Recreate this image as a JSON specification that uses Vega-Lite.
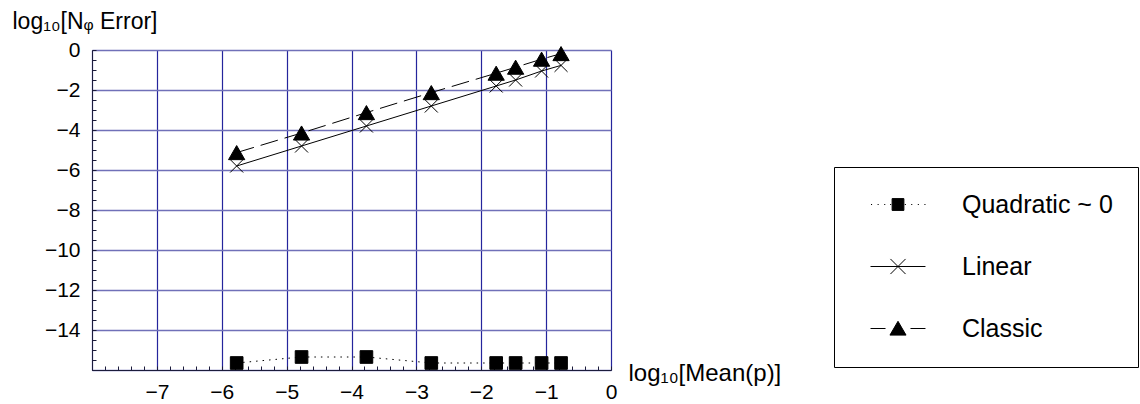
{
  "$schema": "https://vega.github.io/schema/vega-lite/v6.json",
  "width": 519,
  "height": 320,
  "autosize": {"type": "none"},
  "padding": {"left": 92, "top": 50, "right": 529, "bottom": 34},
  "background": "white",
  "config": {
    "view": {"stroke": null},
    "font": "Liberation Sans",
    "axis": {"labelFont": "Liberation Sans", "titleFont": "Liberation Sans", "labelColor": "black", "titleColor": "black", "titleFontWeight": "normal"}
  },
  "data": {
    "values": [
      {"series": "Quadratic ~ 0", "x": -5.77, "y": -15.65},
      {"series": "Quadratic ~ 0", "x": -4.77, "y": -15.35},
      {"series": "Quadratic ~ 0", "x": -3.77, "y": -15.35},
      {"series": "Quadratic ~ 0", "x": -2.77, "y": -15.65},
      {"series": "Quadratic ~ 0", "x": -1.77, "y": -15.65},
      {"series": "Quadratic ~ 0", "x": -1.47, "y": -15.65},
      {"series": "Quadratic ~ 0", "x": -1.07, "y": -15.65},
      {"series": "Quadratic ~ 0", "x": -0.77, "y": -15.65},
      {"series": "Linear", "x": -5.77, "y": -5.8},
      {"series": "Linear", "x": -4.77, "y": -4.8},
      {"series": "Linear", "x": -3.77, "y": -3.8},
      {"series": "Linear", "x": -2.77, "y": -2.8},
      {"series": "Linear", "x": -1.77, "y": -1.8},
      {"series": "Linear", "x": -1.47, "y": -1.5},
      {"series": "Linear", "x": -1.07, "y": -1.05},
      {"series": "Linear", "x": -0.77, "y": -0.77},
      {"series": "Classic", "x": -5.77, "y": -5.13},
      {"series": "Classic", "x": -4.77, "y": -4.15},
      {"series": "Classic", "x": -3.77, "y": -3.13},
      {"series": "Classic", "x": -2.77, "y": -2.13},
      {"series": "Classic", "x": -1.77, "y": -1.16},
      {"series": "Classic", "x": -1.47, "y": -0.86},
      {"series": "Classic", "x": -1.07, "y": -0.46},
      {"series": "Classic", "x": -0.77, "y": -0.18}
    ]
  },
  "encoding": {
    "x": {
      "field": "x", "type": "quantitative",
      "scale": {"domain": [-8, 0], "nice": false, "zero": false},
      "axis": {
        "orient": "bottom",
        "values": [-8,-7.8,-7.6,-7.4,-7.2,-7,-6.8,-6.6,-6.4,-6.2,-6,-5.8,-5.6,-5.4,-5.2,-5,-4.8,-4.6,-4.4,-4.2,-4,-3.8,-3.6,-3.4,-3.2,-3,-2.8,-2.6,-2.4,-2.2,-2,-1.8,-1.6,-1.4,-1.2,-1,-0.8,-0.6,-0.4,-0.2,0],
        "labelExpr": "abs(datum.value - round(datum.value)) < 0.001 && datum.value > -7.5 ? format(datum.value, 'd') : ''",
        "labelOverlap": false,
        "labelFlush": false,
        "labelFontSize": 21,
        "labelPadding": 15,
        "tickSize": -4,
        "tickColor": "#1c1c3c",
        "domainColor": "#1c1c3c",
        "grid": true,
        "gridColor": "#25259c",
        "gridWidth": 1.2,
        "gridOpacity": {"condition": {"test": "abs(datum.value - round(datum.value)) < 0.001", "value": 1}, "value": 0},
        "title": "log₁₀[Mean(p)]",
        "titleFontSize": 24,
        "titleAlign": "left",
        "titleAnchor": "start",
        "titleBaseline": "alphabetic",
        "titleX": 536,
        "titleY": 10
      }
    },
    "y": {
      "field": "y", "type": "quantitative",
      "scale": {"domain": [-16, 0], "nice": false, "zero": false},
      "axis": {
        "orient": "left",
        "values": [-16,-15.5,-15,-14.5,-14,-13.5,-13,-12.5,-12,-11.5,-11,-10.5,-10,-9.5,-9,-8.5,-8,-7.5,-7,-6.5,-6,-5.5,-5,-4.5,-4,-3.5,-3,-2.5,-2,-1.5,-1,-0.5,0],
        "labelExpr": "abs(datum.value/2 - round(datum.value/2)) < 0.001 && datum.value > -15 ? format(datum.value, 'd') : ''",
        "labelOverlap": false,
        "labelFlush": false,
        "labelFontSize": 21,
        "labelPadding": 16,
        "tickSize": -4,
        "tickColor": "#1c1c3c",
        "domainColor": "#1c1c3c",
        "grid": true,
        "gridColor": "#7070b8",
        "gridWidth": 1.4,
        "gridOpacity": {"condition": {"test": "abs(datum.value/2 - round(datum.value/2)) < 0.001", "value": 1}, "value": 0},
        "title": "log₁₀[Nᵩ Error]",
        "titleFontSize": 23,
        "titleAngle": 0,
        "titleAlign": "left",
        "titleAnchor": "start",
        "titleBaseline": "alphabetic",
        "titleX": -80,
        "titleY": -22
      }
    }
  },
  "layer": [
    {
      "transform": [{"filter": "datum.series === 'Quadratic ~ 0'"}],
      "mark": {"type": "line", "color": "black", "strokeWidth": 1, "strokeDash": [1.5, 5]},
      "encoding": {}
    },
    {
      "transform": [{"filter": "datum.series === 'Linear'"}],
      "mark": {"type": "line", "color": "black", "strokeWidth": 1},
      "encoding": {}
    },
    {
      "transform": [{"filter": "datum.series === 'Classic'"}],
      "mark": {"type": "line", "color": "black", "strokeWidth": 1, "strokeDash": [18, 7]},
      "encoding": {}
    },
    {
      "mark": {"type": "point", "stroke": "black", "strokeWidth": 1},
      "encoding": {
        "shape": {
          "field": "series", "type": "nominal",
          "scale": {"domain": ["Classic", "Linear", "Quadratic ~ 0"], "range": ["triangle-up", "M-1,-1L1,1M-1,1L1,-1", "square"]},
          "legend": null
        },
        "opacity": {
          "field": "series", "type": "nominal",
          "scale": {"domain": ["Quadratic ~ 0", "Linear", "Classic"], "range": [1, 1, 1]},
          "legend": {
            "title": null,
            "orient": "none",
            "legendX": 742,
            "legendY": 117,
            "strokeColor": "black",
            "fillColor": "white",
            "padding": 25,
            "rowPadding": 36,
            "symbolSize": 576,
            "symbolStrokeWidth": 1,
            "symbolOffset": 26.5,
            "labelOffset": 51.5,
            "labelFont": "Liberation Sans",
            "labelFontSize": 25,
            "labelColor": "black",
            "labelLimit": 400,
            "symbolType": {"expr": "datum.value === 'Linear' ? 'M-2.29,0H2.29M-0.63,-0.63L0.63,0.63M-0.63,0.63L0.63,-0.63' : datum.value === 'Classic' ? 'M-2.29,0H-1.04M1.04,0H2.29M0,-0.6L0.67,0.55L-0.67,0.55Z' : 'M-2.25,0h0.09M-1.7,0h0.09M-1.15,0h0.09M-0.66,0h0.09M0.57,0h0.09M1.1,0h0.09M1.65,0h0.09M2.2,0h0.09M-0.49,-0.49h0.98v0.98h-0.98Z'"},
            "encode": {
              "symbols": {
                "fill": {"value": "black"},
                "stroke": {"value": "black"},
                "strokeWidth": {"value": 1},
                "size": {"value": 576}
              }
            }
          }
        },
        "fill": {
          "condition": {"test": "datum.series === 'Linear'", "value": "transparent"},
          "value": "black"
        },
        "size": {
          "condition": [
            {"test": "datum.series === 'Classic'", "value": 265},
            {"test": "datum.series === 'Linear'", "value": 170}
          ],
          "value": 160
        }
      }
    }
  ]
}
